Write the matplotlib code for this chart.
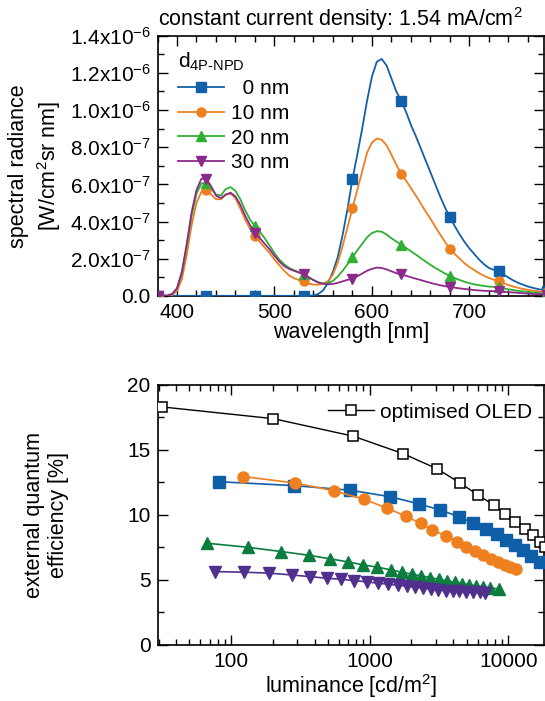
import numpy as np
import matplotlib
matplotlib.use("Agg")
import matplotlib.pyplot as plt
from matplotlib.ticker import MultipleLocator, FuncFormatter, LogLocator

plt.rcParams['font.family'] = ['Liberation Sans', 'DejaVu Sans']
plt.rcParams['mathtext.fontset'] = 'custom'
plt.rcParams['mathtext.rm'] = 'Liberation Sans'
plt.rcParams['mathtext.it'] = 'Liberation Sans:italic'
plt.rcParams['mathtext.default'] = 'regular'

# ---- top panel: spectra (units of 1e-7 W/cm2 sr nm), 5 nm steps 380..780
wavelength = np.arange(380, 781, 5)

spec_0nm = [0, 0, 0, 0, 0, 0, 0, 0, 0, 0,
            0, 0, 0, 0, 0, 0, 0, 0, 0, 0,
            0, 0, 0, 0, 0, 0, 0, 0, 0, 0,
            0, 0, 0.02, 0.1, 0.3, 0.7, 1.3, 2.1, 3.3, 4.7,
            6.28, 7.6, 9.0, 10.5, 11.8, 12.6, 12.75, 12.4, 11.7, 11.0,
            10.5, 9.9, 9.2, 8.6, 7.95, 7.3, 6.65, 6.0, 5.35, 4.75,
            4.22, 3.75, 3.3, 2.9, 2.55, 2.25, 1.95, 1.7, 1.5, 1.4,
            1.34, 1.15, 0.98, 0.83, 0.7, 0.6, 0.5, 0.43, 0.37, 0.32,
            0.28]
spec_10nm = [0, 0, 0, 0.05, 0.25, 0.9, 2.2, 3.8, 5.0, 5.6,
             5.7, 5.45, 5.2, 5.2, 5.45, 5.5, 5.25, 4.7, 4.1, 3.6,
             3.2, 2.9, 2.6, 2.3, 1.95, 1.65, 1.35, 1.1, 0.95, 0.85,
             0.78, 0.66, 0.6, 0.6, 0.65, 0.8, 1.15, 1.8, 2.7, 3.7,
             4.73, 5.7, 6.7, 7.7, 8.25, 8.47, 8.4, 8.1, 7.6, 7.05,
             6.58, 6.2, 5.8, 5.4, 4.98, 4.55, 4.15, 3.72, 3.3, 2.9,
             2.53, 2.25, 2.0, 1.75, 1.55, 1.38, 1.22, 1.08, 0.96, 0.87,
             0.8, 0.68, 0.58, 0.5, 0.43, 0.37, 0.32, 0.28, 0.25, 0.22,
             0.2]
spec_20nm = [0, 0, 0.02, 0.1, 0.4, 1.2, 2.7, 4.3, 5.5, 6.05,
             6.1, 5.8, 5.45, 5.4, 5.75, 5.85, 5.65, 5.2, 4.6, 4.1,
             3.75, 3.45, 3.1, 2.7, 2.3, 1.95, 1.7, 1.5, 1.38, 1.28,
             1.18, 1.0, 0.85, 0.72, 0.66, 0.68, 0.8, 1.05, 1.35, 1.7,
             2.08, 2.45, 2.8, 3.15, 3.38, 3.48, 3.45, 3.3, 3.1, 2.92,
             2.76, 2.58, 2.4, 2.22, 2.03, 1.85, 1.67, 1.5, 1.35, 1.2,
             1.07, 0.95, 0.85, 0.76, 0.68, 0.62, 0.57, 0.53, 0.5, 0.48,
             0.46, 0.4, 0.35, 0.31, 0.27, 0.24, 0.21, 0.18, 0.16, 0.14,
             0.12]
spec_30nm = [0, 0, 0.02, 0.1, 0.4, 1.3, 2.8, 4.5, 5.7, 6.3,
             6.3, 5.9, 5.4, 5.25, 5.45, 5.55, 5.35, 4.9, 4.3, 3.8,
             3.4, 3.1, 2.8, 2.5, 2.15, 1.85, 1.6, 1.45, 1.35, 1.25,
             1.15, 1.0, 0.85, 0.72, 0.65, 0.62, 0.64, 0.7, 0.78, 0.86,
             0.93, 1.05, 1.2, 1.35, 1.45, 1.52, 1.5, 1.42, 1.32, 1.22,
             1.15, 1.08, 1.0, 0.92, 0.85, 0.77, 0.7, 0.63, 0.57, 0.52,
             0.48, 0.44, 0.4, 0.37, 0.34, 0.31, 0.29, 0.27, 0.26, 0.25,
             0.25, 0.22, 0.2, 0.18, 0.16, 0.14, 0.12, 0.1, 0.09, 0.08,
             0.07]
spec_labels = ['  0 nm', '10 nm', '20 nm', '30 nm']

# ---- bottom panel: EQE vs luminance
lum_opt = [32, 202, 762, 1750, 3050, 4490, 5990, 7820, 9480, 11200, 13070, 14950, 16960, 18400]
eqe_opt = [18.3, 17.4, 16.05, 14.7, 13.55, 12.45, 11.55, 10.77, 10.08, 9.48, 8.9, 8.46, 7.95, 7.56]

lum_0nm = [82, 285, 722, 1400, 2260, 3220, 4370, 5600, 6880, 8260, 9660, 11100, 12760, 14660, 16960]
eqe_0nm = [12.55, 12.25, 11.9, 11.4, 10.85, 10.38, 9.87, 9.36, 8.9, 8.5, 8.08, 7.69, 7.31, 6.87, 6.41]

lum_10nm = [122, 290, 554, 912, 1343, 1823, 2325, 2810, 3540, 4250, 4930, 5760, 6610, 7510, 8400, 9380, 10300, 11330]
eqe_10nm = [12.95, 12.45, 11.85, 11.2, 10.5, 9.9, 9.35, 8.85, 8.38, 7.95, 7.56, 7.23, 6.92, 6.62, 6.36, 6.15, 5.98, 5.82]

lum_20nm = [67, 132, 230, 362, 518, 702, 902, 1137, 1420, 1705, 2015, 2350, 2730, 3150, 3600, 4090, 4620, 5210, 5860, 6550, 7390, 8490]
eqe_20nm = [7.82, 7.51, 7.18, 6.9, 6.62, 6.38, 6.15, 5.98, 5.77, 5.59, 5.44, 5.31, 5.18, 5.05, 4.92, 4.82, 4.72, 4.62, 4.54, 4.46, 4.38, 4.31]

lum_30nm = [76, 125, 189, 274, 372, 490, 622, 771, 952, 1155, 1365, 1612, 1853, 2128, 2440, 2760, 3130, 3560, 3980, 4440, 4960, 5550, 6190, 6800]
eqe_30nm = [5.64, 5.59, 5.52, 5.38, 5.25, 5.13, 5.05, 4.95, 4.85, 4.74, 4.67, 4.59, 4.51, 4.44, 4.36, 4.31, 4.23, 4.18, 4.15, 4.13, 4.1, 4.08, 4.05, 4.02]

top_colors = ['#1160a9', '#ee7f1f', '#2fb034', '#8c2a8c']
bot_colors = ['#0f5ea8', '#ee8020', '#0c7c3f', '#50308c']
markers = ['s', 'o', '^', 'v']

fig = plt.figure(figsize=(5.45, 7.01), dpi=100)
ax1 = fig.add_axes([0.289, 0.578, 0.710, 0.371])
ax2 = fig.add_axes([0.289, 0.080, 0.710, 0.371])

# top panel
for spec, c, m, lab in zip([spec_0nm, spec_10nm, spec_20nm, spec_30nm], top_colors, markers, spec_labels):
    ax1.plot(wavelength, np.array(spec) * 1e-7, color=c, lw=1.3, marker=m,
             markevery=10, ms=6.5, label=lab, zorder=3)

ax1.set_xlim(380, 777)
ax1.set_ylim(0, 1.4e-6)
ax1.xaxis.set_major_locator(MultipleLocator(100))
ax1.xaxis.set_minor_locator(MultipleLocator(20))
ax1.yaxis.set_major_locator(MultipleLocator(2e-7))
ax1.yaxis.set_minor_locator(MultipleLocator(1e-7))


def sci(v, pos):
    if v < 1e-12:
        return '0.0'
    e = int(np.floor(np.log10(v) + 1e-9))
    return f'{v / 10**e:.1f}x10$^{{{e}}}$'


ax1.yaxis.set_major_formatter(FuncFormatter(sci))
ax1.set_xlabel('wavelength [nm]', fontsize=15.5, labelpad=0)
ax1.set_ylabel('spectral radiance\n[W/cm$^2$sr nm]', fontsize=15.5, labelpad=5, linespacing=1.3)
ax1.text(0.0, 1.01, 'constant current density: 1.54 mA/cm$^2$', transform=ax1.transAxes,
         ha='left', va='bottom', fontsize=15.5)
leg1 = ax1.legend(loc='upper left', bbox_to_anchor=(0.02, 0.99), frameon=False, fontsize=15,
                  title='d$_{4P\u2010NPD}$', title_fontsize=15, handlelength=2.2,
                  handletextpad=0.35, labelspacing=0.28, borderaxespad=0.2, alignment='left')

# bottom panel
ax2.plot(lum_opt, eqe_opt, color='black', lw=1.0, marker='s', ms=7, mfc='white', mec='black',
         mew=1.1, label='optimised OLED', zorder=4)
for lum, eqe, c, m in zip([lum_0nm, lum_10nm, lum_20nm, lum_30nm],
                          [eqe_0nm, eqe_10nm, eqe_20nm, eqe_30nm], bot_colors, markers):
    ax2.plot(lum, eqe, color=c, lw=1.2, marker=m, ms=8, zorder=3)

ax2.set_xscale('log')
ax2.set_xlim(29.5, 18200)
ax2.set_ylim(0, 20)
ax2.xaxis.set_major_locator(LogLocator(base=10, numticks=10))
ax2.xaxis.set_minor_locator(LogLocator(base=10, subs=np.arange(2, 10), numticks=20))
ax2.xaxis.set_major_formatter(FuncFormatter(lambda v, p: f'{v:.0f}'))
ax2.yaxis.set_major_locator(MultipleLocator(5))
ax2.yaxis.set_minor_locator(MultipleLocator(2.5))
ax2.set_xlabel('luminance [cd/m$^2$]', fontsize=15.5, labelpad=1)
ax2.set_ylabel('external quantum\nefficiency [%]', fontsize=15.5, labelpad=42)
ax2.legend(loc='upper right', bbox_to_anchor=(1.0, 0.98), frameon=False, fontsize=15,
           handlelength=2.2, handletextpad=0.3, borderaxespad=0.2)

for ax in (ax1, ax2):
    ax.tick_params(which='both', direction='in', top=True, right=True, labelsize=15, width=1.0)
    ax.tick_params(which='major', length=7, pad=5)
    ax.tick_params(which='minor', length=4)
    for s in ax.spines.values():
        s.set_linewidth(1.2)

fig.savefig('out.png', dpi=100)
